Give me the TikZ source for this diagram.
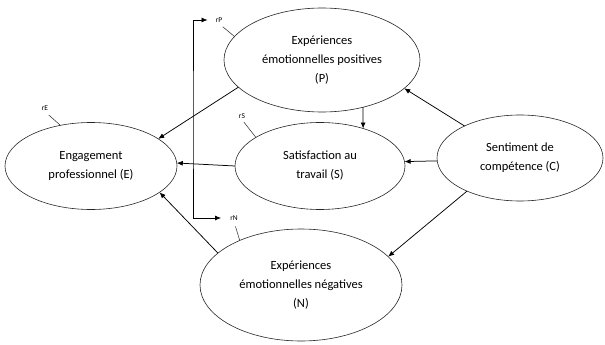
\documentclass[tikz,border=0pt]{standalone}
\usepackage{fontspec}
\setmainfont{Carlito}
\usetikzlibrary{shapes.geometric,arrows.meta}
\begin{document}
\begin{tikzpicture}[x=1pt,y=-1pt,
  ell/.style={ellipse,draw=black!85,line width=0.6pt,inner sep=0pt,outer sep=0pt,align=center,font=\fontsize{12.5}{19}\selectfont},
  arr/.style={line width=0.75pt,-{Latex[length=6pt,width=5pt]}},
  biarr/.style={line width=0.75pt,{Latex[length=6pt,width=5pt]}-{Latex[length=6pt,width=5pt]}},
  lab/.style={font=\fontsize{7.5}{9}\selectfont,inner sep=1pt},
  tick/.style={line width=0.5pt,draw=black!85}]
\useasboundingbox (0,0) rectangle (605,345);
\node[ell,minimum width=196pt,minimum height=104pt] (P) at (322,60) {Expériences\\émotionnelles positives\\(P)};
\node[ell,minimum width=172pt,minimum height=87pt] (E) at (91,166) {Engagement\\professionnel (E)};
\node[ell,minimum width=170pt,minimum height=87pt] (S) at (320,166) {Satisfaction au\\travail (S)};
\node[ell,minimum width=166pt,minimum height=86pt] (C) at (520,158) {Sentiment de\\compétence (C)};
\node[ell,minimum width=202pt,minimum height=112pt] (N) at (301,285) {Expériences\\émotionnelles négatives\\(N)};
% residual labels
\node[lab] (rP) at (219,20) {rP};
\node[lab] (rE) at (45,108) {rE};
\node[lab] (rS) at (242,116) {rS};
\node[lab] (rN) at (234,218) {rN};
\draw[tick,shorten <=5pt] (rP.south) -- (P.165);
\draw[tick,shorten <=5pt] (rE.south) -- (E.127);
\draw[tick,shorten <=3pt] (rS.south) -- (S.156);
\draw[tick,shorten <=5pt] (rN.south) -- (N.144);
% correlation bracket
\coordinate (br) at (193,120);
\draw[biarr,shorten <=7pt,shorten >=8pt] (rP.west) -| (br) |- (rN.west);
% paths
\draw[arr] (P.198) -- (E.22);
\draw[arr] (P.311) -- (S.41);
\draw[arr] (C.150) -- (P.341);
\draw[arr] (C.182) -- (S.3);
\draw[arr] (S.west) -- (E.2);
\draw[arr] (N.159) -- (E.339);
\draw[arr] (C.212) -- (N.18);
\end{tikzpicture}
\end{document}
